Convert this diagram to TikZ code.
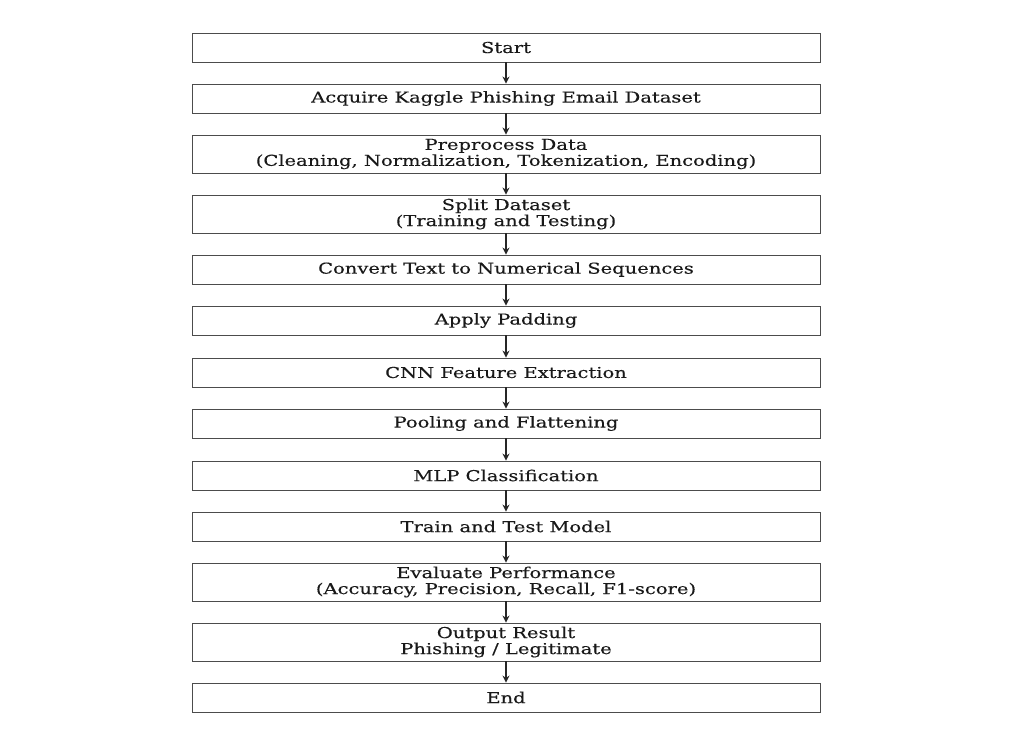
\documentclass[tikz,border=0pt]{standalone}
\usepackage{fontspec}
\setmainfont[FakeStretch=1.3, FakeBold=0.3]{DejaVu Serif}
\usetikzlibrary{arrows.meta}
\tikzset{
  stepbox/.style={draw=black!70, line width=0.9pt, minimum width=628pt, minimum height=29pt,
    inner sep=0pt, align=center, font=\fontsize{15}{16}\selectfont, text=black!90},
  tallbox/.style={stepbox, minimum height=38pt},
  flow/.style={-{Stealth[length=7pt,width=7pt]}, line width=1.3pt, black!85},
}
\begin{document}
\begin{tikzpicture}[x=1pt, y=-1pt]
		%%%%% START %%%%%
		\useasboundingbox (0,0) rectangle (1019,731);
		
		\node[stepbox] (start) at (506, 47.5) {Start};
		\node[stepbox] (acquire) at (506, 98.5) {Acquire Kaggle Phishing Email Dataset};
		\node[tallbox] (preprocess) at (506, 154) {Preprocess Data\\(Cleaning, Normalization, Tokenization, Encoding)};
		\node[tallbox] (split) at (506, 214) {Split Dataset\\(Training and Testing)};
		\node[stepbox] (convert) at (506, 269.5) {Convert Text to Numerical Sequences};
		\node[stepbox] (padding) at (506, 320.5) {Apply Padding};
		\node[stepbox] (cnn) at (506, 372.5) {CNN Feature Extraction};
		\node[stepbox] (pooling) at (506, 423.5) {Pooling and Flattening};
		\node[stepbox] (mlp) at (506, 475.5) {MLP Classification};
		\node[stepbox] (train) at (506, 526.5) {Train and Test Model};
		\node[tallbox] (evaluate) at (506, 582) {Evaluate Performance\\(Accuracy, Precision, Recall, F1-score)};
		\node[tallbox] (output) at (506, 642) {Output Result\\Phishing / Legitimate};
		\node[stepbox] (end) at (506, 697.5) {End};
		
		\foreach \a/\b in {start/acquire, acquire/preprocess, preprocess/split, split/convert,
		  convert/padding, padding/cnn, cnn/pooling, pooling/mlp, mlp/train, train/evaluate,
		  evaluate/output, output/end}
		  \draw[flow] (\a) -- (\b);
		
		%%%%% END %%%%%
\end{tikzpicture}
\end{document}
